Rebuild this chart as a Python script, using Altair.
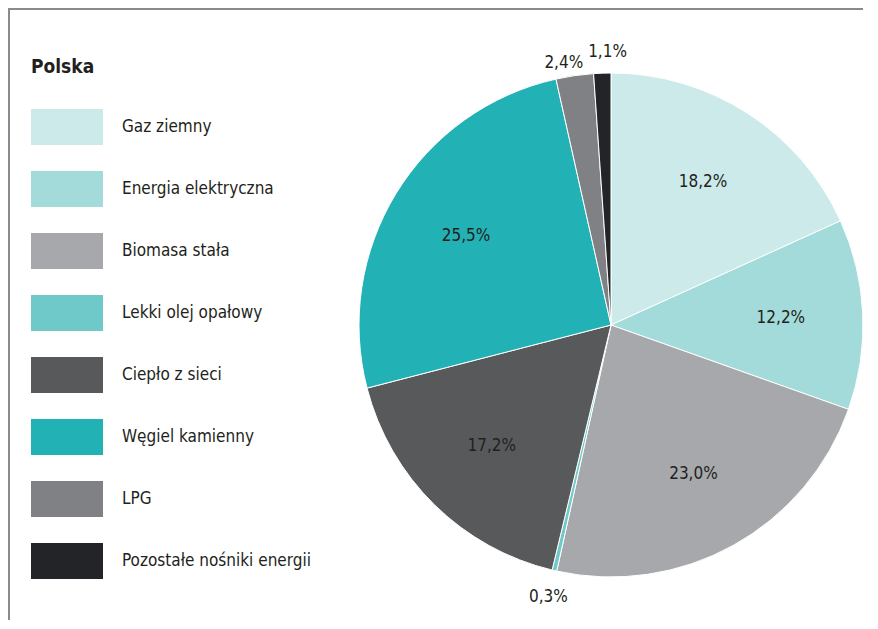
import altair as alt
import pandas as pd

categories = ["Gaz ziemny", "Energia elektryczna", "Biomasa stała", "Lekki olej opałowy",
              "Ciepło z sieci", "Węgiel kamienny", "LPG", "Pozostałe nośniki energii"]
values = [18.2, 12.2, 23.0, 0.3, 17.2, 25.5, 2.4, 1.1]
labels = ["18,2%", "12,2%", "23,0%", "0,3%", "17,2%", "25,5%", "2,4%", "1,1%"]
outside = [False, False, False, True, False, False, True, True]
colors = ["#cdeaea", "#a3dbdb", "#a7a8ab", "#6fc9c9", "#58595b", "#22b2b5", "#808184", "#232427"]

FONT = "DejaVu Sans Condensed, sans-serif"
TXT = "#231f20"

df = pd.DataFrame({
    "category": categories,
    "value": values,
    "label": labels,
    "outside": outside,
    "order": list(range(len(categories))),
})

CX, CY = 603, 317

base = alt.Chart(df).encode(
    theta=alt.Theta("value:Q", stack=True),
    order=alt.Order("order:Q"),
)

arcs = base.mark_arc(radius=252, stroke="white", strokeWidth=1).encode(
    x=alt.value(CX), y=alt.value(CY),
    color=alt.Color(
        "category:N",
        scale=alt.Scale(domain=categories, range=colors),
        sort=categories,
        legend=alt.Legend(
            title="Polska", orient="none", legendX=23, legendY=50,
            symbolType="M-1,-0.5H1V0.5H-1Z", symbolSize=5184,
            symbolStrokeWidth=0, symbolOpacity=1,
            labelFont=FONT, labelFontSize=17, labelColor=TXT, labelOffset=19,
            labelLimit=400,
            titleFont=FONT, titleFontSize=19, titleFontWeight="bold", titleColor=TXT,
            titlePadding=14, rowPadding=8,
        ),
    ),
)

inner = base.transform_calculate(
    t="datum.outside ? '' : datum.label"
).mark_text(radius=170, font=FONT, fontSize=17, color=TXT).encode(
    x=alt.value(CX), y=alt.value(CY), text="t:N"
)

outer_mid = base.transform_calculate(
    t="datum.category == 'Lekki olej opałowy' ? datum.label : ''"
).mark_text(radius=279, font=FONT, fontSize=17, color=TXT).encode(
    x=alt.value(CX), y=alt.value(CY), text="t:N"
)

outer_lpg = base.transform_calculate(
    t="datum.category == 'LPG' ? datum.label : ''"
).mark_text(radius=265, dx=-9, font=FONT, fontSize=17, color=TXT).encode(
    x=alt.value(CX), y=alt.value(CY), text="t:N"
)

outer_rest = base.transform_calculate(
    t="datum.category == 'Pozostałe nośniki energii' ? datum.label : ''"
).mark_text(radius=273, dx=6, font=FONT, fontSize=17, color=TXT).encode(
    x=alt.value(CX), y=alt.value(CY), text="t:N"
)

frame_l = pd.DataFrame({"edge": ["left"]})
frame_t = pd.DataFrame({"edge": ["top"]})
frame_left = alt.Chart(frame_l).mark_rect(
    color="#8a8a8a", strokeWidth=0
).encode(x=alt.value(0), x2=alt.value(2), y=alt.value(0), y2=alt.value(612))
frame_top = alt.Chart(frame_t).mark_rect(
    color="#8a8a8a", strokeWidth=0
).encode(x=alt.value(0), x2=alt.value(855), y=alt.value(0), y2=alt.value(2))

chart = alt.layer(arcs, inner, outer_mid, outer_lpg, outer_rest, frame_left, frame_top).properties(
    width=862, height=612, padding=0,
    autosize=alt.AutoSizeParams(type="none"),
).configure_view(strokeWidth=0, stroke="transparent")

chart.save("out.html", embed_options={"renderer": "svg", "actions": False})
